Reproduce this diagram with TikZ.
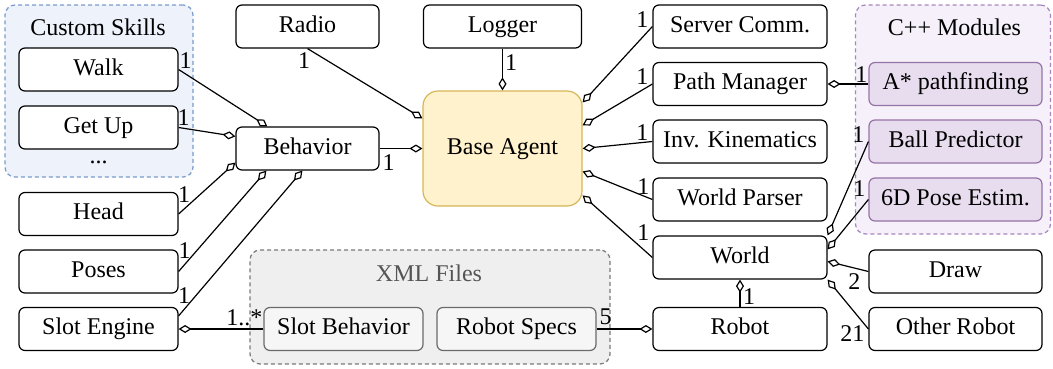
\documentclass[tikz,border=0pt]{standalone}
\usepackage{fontspec}
\setmainfont{Liberation Serif}
\usetikzlibrary{arrows.meta,calc}
\definecolor{yfill}{HTML}{FFF2CC}
\definecolor{ydraw}{HTML}{D6B656}
\definecolor{pfill}{HTML}{E8DDEF}
\definecolor{pdraw}{HTML}{9673A6}
\definecolor{pgfill}{HTML}{F5F0F9}
\definecolor{pgdraw}{HTML}{A985BE}
\definecolor{bgfill}{HTML}{EDF2FB}
\definecolor{bgdraw}{HTML}{7A9BCB}
\definecolor{ggfill}{HTML}{EFEFEF}
\definecolor{ggdraw}{HTML}{7A7A7A}
\definecolor{xfill}{HTML}{F6F6F6}
\definecolor{xdraw}{HTML}{6A6A6A}
\definecolor{xtext}{HTML}{555555}
\begin{document}
\begin{tikzpicture}[x=1pt,y=-1pt,
  txt/.style={font=\fontsize{24}{28}\selectfont, inner sep=0pt},
  box/.style={txt, draw=black, fill=white, rounded corners=6pt, line width=1.2pt,
    minimum height=43pt, text height=16pt, text depth=5pt},
  cbox/.style={box, draw=pdraw, fill=pfill},
  xbox/.style={box, draw=xdraw, fill=xfill},
  grp/.style={rounded corners=10pt, line width=1.2pt, dash pattern=on 4pt off 3pt, inner sep=0pt},
  agg/.style={draw, line width=1.2pt, -{Diamond[fill=white,length=13pt,width=8pt]}},
  lbl/.style={txt, pos=0}
]
\useasboundingbox (0,0) rectangle (1053,368);
% groups
\node[grp, draw=bgdraw, fill=bgfill, minimum width=188pt, minimum height=172pt] (skills) at (99,91) {};
\node[grp, draw=pgdraw, fill=pgfill, minimum width=195pt, minimum height=229pt] (cpp) at (953,119.5) {};
\node[grp, draw=ggdraw, fill=ggfill, minimum width=360pt, minimum height=114pt] (xml) at (430,307) {};
\node[txt, anchor=base] (skillsT) at (98,35) {Custom Skills};
\node[txt, anchor=base] (cppT) at (954.5,35) {C++ Modules};
\node[txt, anchor=base, text=xtext] (xmlT) at (429,281) {XML Files};
\node[txt, anchor=base] (dots) at (98.5,163) {...};
% nodes
\node[box, minimum width=143pt] (radio) at (307.5,26.5) {Radio};
\node[box, minimum width=158pt] (logger) at (502.5,26.5) {Logger};
\node[box, minimum width=174pt] (server) at (740,26.5) {Server Comm.};
\node[box, minimum width=174pt] (pm) at (740,84) {Path Manager};
\node[box, minimum width=174pt] (inv) at (740,141.5) {Inv. Kinematics};
\node[box, minimum width=174pt] (wp) at (740,199.5) {World Parser};
\node[box, minimum width=174pt] (world) at (740,257.5) {World};
\node[box, minimum width=174pt] (robot) at (740,329) {Robot};
\node[box, draw=ydraw, fill=yfill, rounded corners=15pt, minimum width=159pt, minimum height=115pt] (base) at (502.5,148.5) {Base Agent};
\node[box, minimum width=143pt] (behavior) at (307.5,148.5) {Behavior};
\node[box, minimum width=159pt] (walk) at (98.5,69.5) {Walk};
\node[box, minimum width=159pt] (getup) at (98.5,127.5) {Get Up};
\node[box, minimum width=159pt] (head) at (98.5,214) {Head};
\node[box, minimum width=159pt] (poses) at (98.5,271.5) {Poses};
\node[box, minimum width=159pt] (slot) at (98.5,329) {Slot Engine};
\node[xbox, minimum width=159pt] (slotb) at (343.5,329) {Slot Behavior};
\node[xbox, minimum width=159pt] (specs) at (516.5,329) {Robot Specs};
\node[cbox, minimum width=173pt] (astar) at (955.5,84) {A* pathfinding};
\node[cbox, minimum width=173pt] (ball) at (955.5,141.5) {Ball Predictor};
\node[cbox, minimum width=173pt] (pose) at (955.5,199.5) {6D Pose Estim.};
\node[box, minimum width=173pt] (draw) at (955.5,271.5) {Draw};
\node[box, minimum width=173pt] (other) at (955.5,329) {Other Robot};
% connectors
\draw[agg] (radio.south) -- node[lbl, xshift=-3.5pt, yshift=-12pt] {1} ($(base.north west)+(0,28)$);
\draw[agg] (logger.south) -- node[lbl, xshift=8.5pt, yshift=-14pt] {1} (base.north);
\draw[agg] (behavior.east) -- node[lbl, xshift=9pt, yshift=-14.5pt] {1} (base.west);
\draw[agg] (server.west) -- node[lbl, xshift=-10pt, yshift=6.5pt] {1} ($(base.north east)+(0,12)$);
\draw[agg] (pm.west) -- node[lbl, xshift=-10pt, yshift=7pt] {1} ($(base.north east)+(0,35)$);
\draw[agg] (inv.west) -- node[lbl, xshift=-10pt, yshift=8.5pt] {1} (base.east);
\draw[agg] (wp.west) -- node[lbl, xshift=-9pt, yshift=13pt] {1} ($(base.north east)+(0,81)$);
\draw[agg] (world.west) -- node[lbl, xshift=-9pt, yshift=24.5pt] {1} ($(base.north east)+(0,105)$);
\draw[agg] (walk.east) -- node[lbl, xshift=7pt, yshift=8.5pt] {1} ($(behavior.north west)+(32,0)$);
\draw[agg] (getup.east) -- node[lbl, xshift=5pt, yshift=9.5pt] {1} ($(behavior.north west)+(0,10)$);
\draw[agg] (head.east) -- node[lbl, xshift=5.5pt, yshift=19pt] {1} ($(behavior.south west)+(0,-8)$);
\draw[agg] (poses.east) -- node[lbl, xshift=6pt, yshift=21pt] {1} ($(behavior.south west)+(31,0)$);
\draw[agg] ($(slot.north east)+(0,9)$) -- node[lbl, xshift=5.5pt, yshift=20pt] {1} ($(behavior.south west)+(67,0)$);
\draw[agg] (slotb.west) -- node[lbl, xshift=-19pt, yshift=11pt] {1..*} (slot.east);
\draw[agg] (specs.east) -- node[lbl, xshift=9pt, yshift=12.5pt] {5} (robot.west);
\draw[agg] (robot.north) -- node[lbl, xshift=9pt, yshift=10pt] {1} (world.south);
\draw[agg] (draw.west) -- node[lbl, xshift=-14pt, yshift=-10.5pt] {2} ($(world.north east)+(0,26)$);
\draw[agg] (other.west) -- node[lbl, xshift=-16pt, yshift=-4.5pt] {21} (world.south east);
\draw[agg] (ball.west) -- node[lbl, xshift=-10pt, yshift=6.5pt] {1} (world.north east);
\draw[agg] (pose.west) -- node[lbl, xshift=-9pt, yshift=11pt] {1} ($(world.north east)+(0,14)$);
\draw[agg] (astar.west) -- node[lbl, xshift=-7pt, yshift=9pt] {1} (pm.east);
\end{tikzpicture}
\end{document}
